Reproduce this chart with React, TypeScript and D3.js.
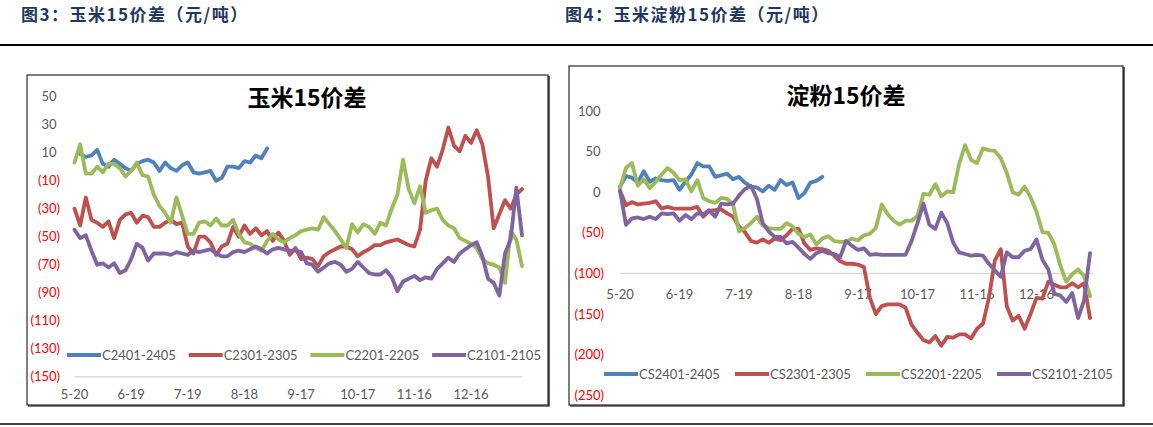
import React from 'react';
import * as d3 from 'd3';

// sample days counted from 5-20
const sampleDays = [
  0, 3, 6, 9, 12, 15, 18, 21, 24, 27,
  30, 33, 36, 39, 42, 45, 48, 51, 54, 57,
  60, 63, 66, 69, 72, 75, 78, 81, 84, 87,
  90, 93, 96, 99, 102, 105, 108, 111, 114, 117,
  120, 123, 126, 129, 132, 135, 138, 141, 144, 147,
  150, 153, 156, 159, 162, 165, 168, 171, 174, 177,
  180, 183, 186, 189, 192, 195, 198, 201, 204, 207,
  210, 213, 216, 219, 222, 225, 228, 231, 234, 237,
];

const dateTicks = [0, 30, 60, 90, 120, 150, 180, 210];
const dateLabels = ['5-20', '6-19', '7-19', '8-18', '9-17', '10-17', '11-16', '12-16'];

const cornTicks = [50, 30, 10, -10, -30, -50, -70, -90, -110, -130, -150];
const starchTicks = [100, 50, 0, -50, -100, -150, -200, -250];

const cornNames = ['C2401-2405', 'C2301-2305', 'C2201-2205', 'C2101-2105'];
const starchNames = ['CS2401-2405', 'CS2301-2305', 'CS2201-2205', 'CS2101-2105'];
const seriesColors = ['#4F81BD', '#C0504D', '#9BBB59', '#8064A2'];

// 玉米15价差
const corn2401 = [
  null, 9, 7, 8, 12, 2, 0, 5, 2, -1,
  -3, 2, 4, 5, 3, -3, 3, -1, -3, 1,
  3, -4, -5, -4, -3, -10, -8, 0, 0, -1,
  4, 3, 8, 6, 13,
];
const corn2301 = [
  -30, -42, -22, -38, -40, -43, -39, -51, -38, -34,
  -33, -40, -35, -36, -43, -43, -40, -38, -41, -40,
  -57, -62, -50, -50, -54, -63, -57, -55, -43, -50,
  -42, -48, -44, -49, -46, -53, -47, -53, -63, -58,
  -66, -65, -66, -71, -64, -61, -59, -57, -57, -59,
  -64, -61, -59, -56, -56, -54, -53, -52, -54, -56,
  -57, -45, -10, 6, 0, 12, 28, 15, 11, 22,
  17, 26, 16, -7, -44, -34, -24, -30, -20, -16,
];
const corn2201 = [
  3, 16, -5, -5, 0, -4, 2, 2, -1, -7,
  -3, 3, -6, -7, -20, -28, -33, -40, -22, -35,
  -48, -48, -40, -39, -42, -37, -42, -42, -38, -48,
  -54, -55, -58, -60, -53, -48, -52, -54, -51, -49,
  -46, -45, -44, -45, -36, -41, -46, -52, -58, -41,
  -47, -41, -43, -48, -40, -42, -30, -20, 5, -16,
  -26, -14, -33, -31, -30, -38, -42, -44, -51, -53,
  -55, -58, -66, -69, -70, -72, -83, -46, -52, -71,
];
const corn2101 = [
  -45, -51, -49, -60, -70, -69, -72, -69, -76, -74,
  -66, -55, -58, -67, -62, -62, -62, -63, -61, -62,
  -63, -60, -61, -60, -59, -62, -64, -64, -61, -60,
  -61, -59, -57, -59, -62, -59, -58, -59, -60, -60,
  -61, -69, -70, -75, -72, -69, -68, -70, -75, -73,
  -68, -72, -76, -77, -77, -74, -79, -89, -82, -80,
  -78, -81, -79, -80, -73, -69, -65, -68, -62, -59,
  -56, -54, -64, -80, -83, -92, -62, -52, -15, -49,
];

// 淀粉15价差
const starch2401 = [
  7, 20, 18, 12, 26, 13, 17, 15, 14, 15,
  3, 13, 22, 36, 32, 32, 19, 21, 23, 16,
  19, 12, 7, 6, 1, 8, 3, 15, 9, 12,
  -7, -1, 12, 14, 19,
];
const starch2301 = [
  2, -16, -12, -15, -14, -13, -11, -20, -18, -20,
  -20, -20, -20, -18, -30, -23, -22, -21, -26, -30,
  -42, -49, -60, -62, -58, -62, -57, -59, -53, -45,
  -45, -63, -71, -69, -70, -72, -78, -85, -88, -88,
  -89, -92, -130, -150, -140, -138, -138, -138, -142, -163,
  -173, -182, -185, -177, -189, -178, -179, -175, -175, -180,
  -168, -162, -130, -84, -70, -140, -158, -152, -168, -150,
  -130, -131, -110, -114, -117, -117, -112, -117, -112, -155,
];
const starch2201 = [
  5, 30, 36, 8, 16, 5, 13, 22, 30, 24,
  15, 16, 1, 15, -7, -11, -13, -7, -8, -15,
  -48, -44, -38, -30, -41, -44, -45, -45, -38, -42,
  -51, -55, -52, -64, -57, -54, -60, -61, -61, -57,
  -59, -53, -51, -44, -15, -27, -35, -40, -35, -35,
  -29, -2, -3, 10, -5, 1, 0, 35, 58, 40,
  36, 54, 52, 51, 42, 24, 0, -3, 7, -6,
  -24, -49, -50, -64, -90, -110, -101, -95, -103, -128,
];
const starch2101 = [
  2, -40, -32, -31, -33, -30, -33, -26, -27, -26,
  -35, -28, -33, -26, -27, -22, -30, -14, -15, -14,
  -4, 4, 8, -8, -38, -48, -55, -55, -63, -61,
  -68, -76, -82, -75, -72, -75, -76, -80, -60, -66,
  -71, -69, -77, -76, -77, -77, -77, -77, -77, -60,
  -38, -14, -40, -45, -25, -38, -62, -74, -76, -78,
  -77, -78, -88, -96, -104, -74, -80, -80, -72, -70,
  -58, -83, -95, -125, -127, -135, -124, -155, -133, -75,
];

const NUM_FONT = 'Lato, "Open Sans", sans-serif';
const CJK_FONT = '"Noto Sans CJK SC", "Noto Sans", sans-serif';
const GREY = '#595959';

const fmt = (v: number) => (v < 0 ? `(${-v})` : `${v}`);

type PanelProps = {
  frame: [number, number, number, number];
  xRange: [number, number];
  xMax: number;
  yDomain: [number, number];
  yRange: [number, number];
  ticks: number[];
  axisValue: number;
  labelRight: number;
  xLabelY: number;
  legendY: number;
  legendX0: number;
  legendStep: number;
  names: string[];
  series: (number | null)[][];
  title: string;
  titleX: number;
  titleY: number;
};

function Panel(p: PanelProps) {
  const x = d3.scaleLinear().domain([0, p.xMax]).range(p.xRange);
  const y = d3.scaleLinear().domain(p.yDomain).range(p.yRange);
  const line = d3
    .line<[number, number | null]>()
    .defined((d) => d[1] != null)
    .x((d) => x(d[0]))
    .y((d) => y(d[1] as number));

  const [fx, fy, fw, fh] = p.frame;
  return (
    <g>
      <rect x={fx} y={fy} width={fw} height={fh} fill="#fff" stroke="#3a3a3a" strokeWidth={1.3} />
      <path d={`M${fx + fw + 1},${fy + 1}V${fy + fh + 1}H${fx + 1}`} fill="none" stroke="#000" strokeWidth={1.2} />

      {/* y labels */}
      {p.ticks.map((t) => (
        <text
          key={t}
          x={t < 0 ? p.labelRight : p.labelRight - 3.5}
          y={y(t)}
          dy="0.35em"
          textAnchor="end"
          fontFamily={NUM_FONT}
          fontSize={13}
          fill={t < 0 ? '#FF0000' : GREY}
        >
          {fmt(t)}
        </text>
      ))}

      {/* category axis */}
      <line x1={p.xRange[0]} x2={p.xRange[1]} y1={y(p.axisValue)} y2={y(p.axisValue)} stroke="#D9D9D9" strokeWidth={1.5} />
      {dateTicks.map((d, i) => (
        <text
          key={d}
          x={x(d)}
          y={p.xLabelY}
          dy="0.35em"
          textAnchor="middle"
          fontFamily={NUM_FONT}
          fontSize={13}
          fill={GREY}
        >
          {dateLabels[i]}
        </text>
      ))}

      {/* series */}
      {p.series.map((vals, i) => (
        <path
          key={p.names[i]}
          d={line(vals.map((v, j) => [sampleDays[j], v] as [number, number | null])) || ''}
          fill="none"
          stroke={seriesColors[i]}
          strokeWidth={3.8}
          strokeLinejoin="round"
          strokeLinecap="round"
        />
      ))}

      {/* legend */}
      {p.names.map((n, i) => {
        const lx = p.legendX0 + i * p.legendStep;
        return (
          <g key={n}>
            <line x1={lx} x2={lx + 34} y1={p.legendY} y2={p.legendY} stroke={seriesColors[i]} strokeWidth={3.8} />
            <text x={lx + 35} y={p.legendY} dy="0.35em" fontFamily={NUM_FONT} fontSize={13} fill={GREY}>
              {n}
            </text>
          </g>
        );
      })}

      <text
        x={p.titleX}
        y={p.titleY}
        dy="0.35em"
        textAnchor="middle"
        fontFamily={CJK_FONT}
        fontWeight={700}
        fontSize={23}
        fill="#000"
      >
        {p.title}
      </text>
    </g>
  );
}

export default function App() {
  const W = 1153;
  const H = 427;
  return (
    <div style={{ position: 'absolute', left: 0, top: 0, background: '#fff' }}>
      <svg width={W} height={H} viewBox={`0 0 ${W} ${H}`} style={{ display: 'block' }}>
        <rect width={W} height={H} fill="#fff" />
        <text x={21} y={15} dy="0.35em" fontFamily={CJK_FONT} fontWeight={700} fontSize={17} letterSpacing={1.5} fill="#1F3864">
          图3：玉米15价差（元/吨）
        </text>
        <text x={565} y={15} dy="0.35em" fontFamily={CJK_FONT} fontWeight={700} fontSize={17} letterSpacing={1.5} fill="#1F3864">
          图4：玉米淀粉15价差（元/吨）
        </text>
        <line x1={0} x2={W} y1={45} y2={45} stroke="#000" strokeWidth={2} />
        <line x1={0} x2={W} y1={424} y2={424} stroke="#000" strokeWidth={1.5} />

        <Panel
          frame={[27, 75, 521, 330]}
          xRange={[74.5, 522]}
          xMax={237}
          yDomain={[-150, 50]}
          yRange={[376.7, 96.7]}
          ticks={cornTicks}
          axisValue={-150}
          labelRight={60}
          xLabelY={394}
          legendY={355}
          legendX0={67}
          legendStep={121.7}
          names={cornNames}
          series={[corn2401, corn2301, corn2201, corn2101]}
          title="玉米15价差"
          titleX={307}
          titleY={98}
        />
        <Panel
          frame={[569, 66, 554, 339]}
          xRange={[620, 1093]}
          xMax={238.5}
          yDomain={[-250, 100]}
          yRange={[395.3, 111.1]}
          ticks={starchTicks}
          axisValue={-100}
          labelRight={604}
          xLabelY={294}
          legendY={374}
          legendX0={604}
          legendStep={131}
          names={starchNames}
          series={[starch2401, starch2301, starch2201, starch2101]}
          title="淀粉15价差"
          titleX={846}
          titleY={96}
        />
      </svg>
    </div>
  );
}
